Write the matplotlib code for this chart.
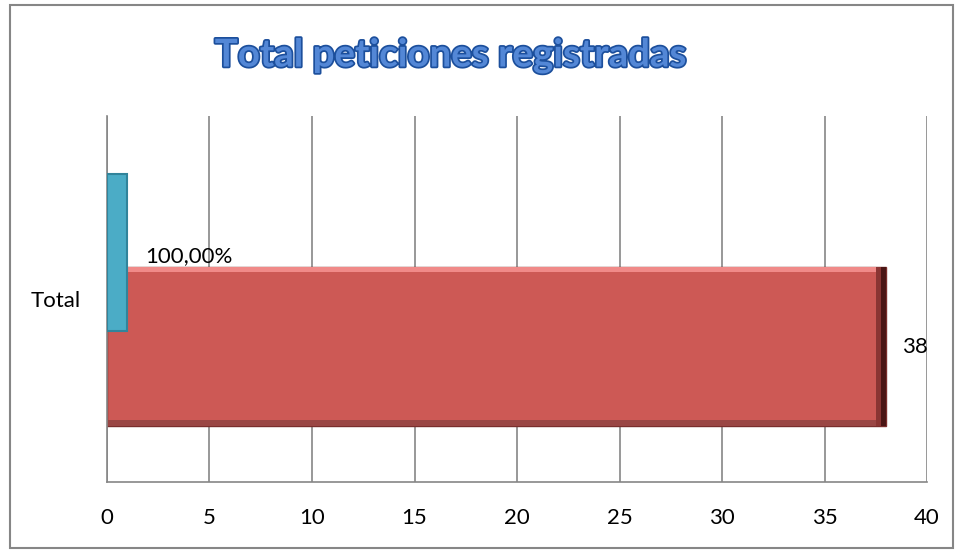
import matplotlib.pyplot as plt
import matplotlib.patheffects as pe
from matplotlib.patches import Rectangle

# data
category = 'Total'
pct_value = 1        # blue bar (100% shown as 1 on the count axis)
pct_label = '100,00%'
count_value = 38     # red bar
count_label = '38'
xticks = [0, 5, 10, 15, 20, 25, 30, 35, 40]

plt.rcParams['font.family'] = ['Lato', 'DejaVu Sans']

fig = plt.figure(figsize=(9.57, 5.5), dpi=100)
ax = fig.add_axes([0.1118, 0.1236, 0.8569, 0.6655])

# outer chart border
fig.patches.append(Rectangle((0.0105, 0.004), 0.985, 0.987, transform=fig.transFigure,
                             fill=False, edgecolor='#868686', linewidth=1.5))

bar_h = 0.43
blue_y = 0.127
red_y = -0.13
ax.barh([blue_y], [pct_value], height=bar_h, color='#4BACC6',
        edgecolor='#31849B', linewidth=1.5, zorder=3)
ax.barh([red_y], [count_value], height=bar_h + 0.005, color='#CD5955',
        edgecolor='#7A2E2C', linewidth=1.0, zorder=2)
# bevel look on the red bar
top = red_y + (bar_h + 0.005) / 2
bot = red_y - (bar_h + 0.005) / 2
ax.add_patch(Rectangle((0, top - 0.014), count_value, 0.014, color='#F08A88', lw=0, zorder=2.1))
ax.add_patch(Rectangle((0, bot), count_value, 0.016, color='#9A4644', lw=0, zorder=2.1))
ax.add_patch(Rectangle((count_value - 0.25, bot), 0.25, bar_h + 0.005, color='#4A1615', lw=0, zorder=2.2))
ax.add_patch(Rectangle((count_value - 0.5, bot), 0.25, bar_h + 0.005, color='#8A3533', lw=0, zorder=2.2))

ax.text(pct_value + 0.85, 0.118, pct_label, fontsize=16, va='center', ha='left', zorder=4)
ax.text(count_value + 0.8, red_y, count_label, fontsize=16, va='center', ha='left', zorder=4)

ax.set_xlim(0, 40)
ax.set_ylim(-0.5, 0.5)
ax.set_xticks(xticks)
ax.set_xticklabels([str(t) for t in xticks], fontsize=16)
ax.set_yticks([0])
ax.set_yticklabels([category], fontsize=16)
ax.tick_params(axis='x', length=0, pad=18.5)
ax.tick_params(axis='y', length=0, pad=19)

ax.grid(axis='x', color='#868686', linewidth=1.2, zorder=0)
for s in ['top', 'right']:
    ax.spines[s].set_visible(False)
for s in ['left', 'bottom']:
    ax.spines[s].set_color('#868686')
    ax.spines[s].set_linewidth(1.2)

title = fig.text(0.4715, 0.899, 'Total peticiones registradas', ha='center', va='center',
                 fontsize=27.7, fontweight='bold', color='#5387D6')
title.set_path_effects([pe.withStroke(linewidth=2.5, foreground='#1C4F9C')])

fig.savefig('out.png', dpi=100)
